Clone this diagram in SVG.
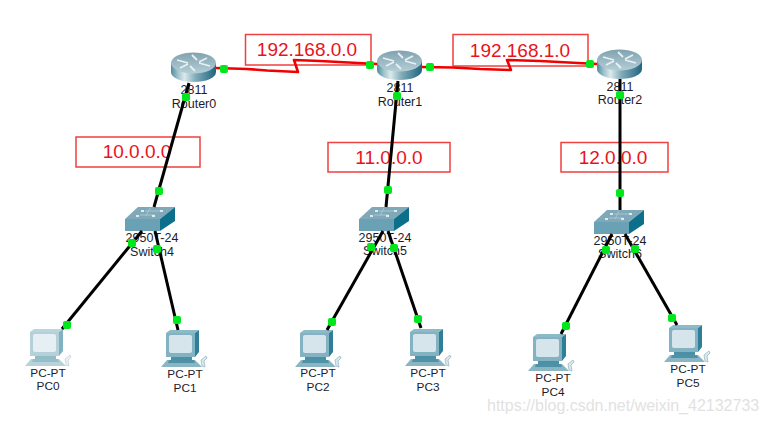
<svg xmlns="http://www.w3.org/2000/svg" width="768" height="424" viewBox="0 0 768 424">
<style>
.lbl{font-family:"Liberation Sans",Arial,sans-serif;font-size:12.5px;fill:#1c1c2c;text-anchor:middle}
.pl{font-size:11.8px}
.net{font-family:"Liberation Sans",Arial,sans-serif;font-size:19px;fill:#e8141c;text-anchor:middle}
.box{fill:none;stroke:#f04040;stroke-width:1.5}
.blk{fill:none;stroke:#000;stroke-width:3}
.red{fill:none;stroke:#f00000;stroke-width:2.6;stroke-linejoin:round}
.dot{fill:#00e81c}
.wm{font-family:"Liberation Sans",Arial,sans-serif;font-size:16px;fill:#d8d8d8;opacity:.75}
</style>
<defs>
<linearGradient id="rg" x1="0" x2="1" y1="0" y2="0"><stop offset="0" stop-color="#4f8c9e"/><stop offset=".15" stop-color="#9cc2cc"/><stop offset=".3" stop-color="#dce9ec"/><stop offset=".55" stop-color="#7fabb8"/><stop offset="1" stop-color="#1f6580"/></linearGradient>
<linearGradient id="rt" x1="0" x2="0" y1="0" y2="1"><stop offset="0" stop-color="#7fa3b0"/><stop offset="1" stop-color="#b4ced6"/></linearGradient>
<g id="router">
<path d="M0 11V20C0 26 10 30 22.500 30S45 26 45 20V11Z" fill="url(#rg)"/>
<ellipse cx="22.500" cy="11" rx="22.500" ry="10.500" fill="url(#rt)"/>
<path d="M6 8L17 11M39 14L28 11M21 3L26 8M24 19L19 14M9 16L17 12M36 6L28 10" stroke="#e8f0f3" stroke-width="1.800" fill="none"/>
</g>
<g id="switch">
<path d="M13 0H50L35 12H0Z" fill="#7fa9b8"/>
<path d="M0 12H35V24H0Z" fill="#6ba1b5"/>
<path d="M35 12L50 0V14L35 24Z" fill="#0d6f8b"/>
<path d="M15 8L30 8M20 4H35M25 1L21 9" stroke="#a8c6d0" stroke-width="1" fill="none"/>
<path d="M11 9h3M27 9h3M16 4h3M35 4h3" stroke="#fff" stroke-width="1.500"/>
</g>
<g id="pcb">
<path d="M36 36L35 30L40 26L41 28L38 31L39 37Z" fill="#dbe8ec" stroke="#8fb2bd" stroke-width=".7"/>
<path d="M-5 37L1 30H29L36 37Z" fill="#8ab5c3"/>
<path d="M3 30H28L29 33H2Z" fill="#4f92a8"/>
<path d="M5 25H26V30H5Z" fill="#4c90a6"/>
<path d="M0 3L4 0H33L29 3Z" fill="#8ebac8"/>
<path d="M29 3L33 0V22L29 27Z" fill="#2f7f98"/>
<path d="M0 3H29V27H0Z" fill="#83b3c2"/>
<rect x="3" y="5" width="23" height="18" rx="2" fill="#d6e5ec"/>
</g>
<g id="pcl" opacity=".6"><use href="#pcb"/></g>
</defs>

<g id="label-192-168-0-0"><rect class="box" x="245.500" y="34.500" width="125.500" height="30.500"/><text class="net" x="307" y="56">192.168.0.0</text></g>
<g id="label-192-168-1-0"><rect class="box" x="453" y="34.500" width="135" height="31.500"/><text class="net" x="520" y="57">192.168.1.0</text></g>
<g id="label-10-0-0-0"><rect class="box" x="76" y="137" width="124" height="30"/><text class="net" x="137" y="158">10.0.0.0</text></g>
<g id="label-11-0-0-0"><rect class="box" x="328" y="142.500" width="122" height="29.500"/><text class="net" x="389" y="164">11.0.0.0</text></g>
<g id="label-12-0-0-0"><rect class="box" x="561" y="142.500" width="107" height="29.500"/><text class="net" x="613" y="164">12.0.0.0</text></g>

<g id="Router0"><use href="#router" x="171" y="52"/><text class="lbl" x="194" y="94">2811</text><text class="lbl" x="194" y="108">Router0</text></g>
<g id="Router1"><use href="#router" x="377" y="50"/><text class="lbl" x="400" y="92">2811</text><text class="lbl" x="400" y="106">Router1</text></g>
<g id="Router2"><use href="#router" x="597" y="49"/><text class="lbl" x="620" y="91">2811</text><text class="lbl" x="620" y="104">Router2</text></g>

<g id="Switch4"><use href="#switch" x="125" y="207"/><text class="lbl" x="152" y="242">2950T-24</text><text class="lbl" x="152" y="256">Switch4</text></g>
<g id="Switch5"><use href="#switch" x="359" y="207"/><text class="lbl" x="385" y="242">2950T-24</text><text class="lbl" x="385" y="255">Switch5</text></g>
<g id="Switch6"><use href="#switch" x="594" y="210"/><text class="lbl" x="620" y="245">2950T-24</text><text class="lbl" x="620" y="258">Switch6</text></g>

<g id="PC0"><use href="#pcl" x="30" y="329"/><text class="lbl pl" x="48" y="377">PC-PT</text><text class="lbl pl" x="48" y="390">PC0</text></g>
<g id="PC1"><use href="#pcb" x="166" y="330"/><text class="lbl pl" x="185" y="378">PC-PT</text><text class="lbl pl" x="185" y="392">PC1</text></g>
<g id="PC2"><use href="#pcb" x="300" y="330"/><text class="lbl pl" x="318" y="377">PC-PT</text><text class="lbl pl" x="318" y="391">PC2</text></g>
<g id="PC3"><use href="#pcb" x="410" y="329"/><text class="lbl pl" x="428" y="377">PC-PT</text><text class="lbl pl" x="428" y="391">PC3</text></g>
<g id="PC4"><use href="#pcb" x="533" y="334"/><text class="lbl pl" x="553" y="382">PC-PT</text><text class="lbl pl" x="553" y="396">PC4</text></g>
<g id="PC5"><use href="#pcb" x="669" y="325"/><text class="lbl pl" x="688" y="373">PC-PT</text><text class="lbl pl" x="688" y="387">PC5</text></g>

<g id="connectors">
<path class="blk" d="M189 83L154 207"/>
<path class="blk" d="M398 81L386 207"/>
<path class="blk" d="M620 79V210"/>
<path class="blk" d="M142 231L62 329"/>
<path class="blk" d="M155 231L178 330"/>
<path class="blk" d="M383 231L327 330"/>
<path class="blk" d="M388 231L421 328"/>
<path class="blk" d="M612 234L561 334"/>
<path class="blk" d="M625 234L677 325"/>
<path class="red" d="M216 68L247 69L267 70.500L298 72L294 60L320 61L377 64"/>
<path class="red" d="M422 67L453 67.500L480 69L511 70L507 60L540 61L597 64"/>
</g>

<g id="link-lights" class="dot">
<rect x="220" y="65" width="8" height="8" rx="2"/><rect x="366" y="61" width="8" height="8" rx="2"/>
<rect x="426" y="63" width="8" height="8" rx="2"/><rect x="586" y="60" width="8" height="8" rx="2"/>
<rect x="182" y="93" width="8" height="8" rx="2"/><rect x="393" y="92" width="8" height="8" rx="2"/><rect x="616" y="91" width="8" height="8" rx="2"/>
<rect x="155" y="187" width="8" height="8" rx="2"/><rect x="384" y="186" width="8" height="8" rx="2"/><rect x="616" y="189" width="8" height="8" rx="2"/>
<rect x="128" y="239" width="8" height="8" rx="2"/><rect x="153" y="245" width="8" height="8" rx="2"/>
<rect x="367" y="243" width="8" height="8" rx="2"/><rect x="390" y="244" width="8" height="8" rx="2"/>
<rect x="602" y="246" width="8" height="8" rx="2"/><rect x="631" y="245" width="8" height="8" rx="2"/>
<rect x="63" y="321" width="8" height="8" rx="2"/><rect x="173" y="316" width="8" height="8" rx="2"/>
<rect x="328" y="318" width="8" height="8" rx="2"/><rect x="414" y="315" width="8" height="8" rx="2"/>
<rect x="562" y="322" width="8" height="8" rx="2"/><rect x="668" y="314" width="8" height="8" rx="2"/>
</g>
<text class="wm" x="487" y="411">https://blog.csdn.net/weixin_42132733</text>
</svg>
